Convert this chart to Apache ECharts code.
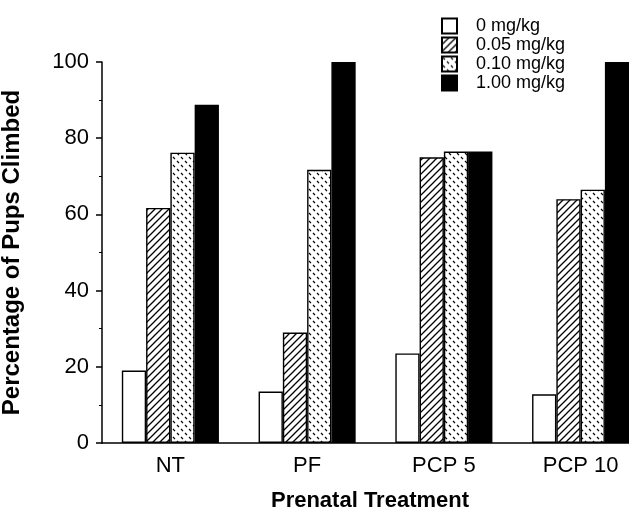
<!DOCTYPE html>
<html>
<head>
<meta charset="utf-8">
<script src="https://cdn.jsdelivr.net/npm/echarts@6/dist/echarts.min.js"></script>
<style>
  html, body { margin: 0; padding: 0; background: #fff; }
  #chart { width: 629px; height: 516px; }
</style>
</head>
<body>
<div id="chart"></div>
<script>
// 数据
var categories = ['NT', 'PF', 'PCP 5', 'PCP 10'];
var doseNames = ['0 mg/kg', '0.05 mg/kg', '0.10 mg/kg', '1.00 mg/kg'];
var dose0 = [19, 13.5, 23.5, 12.8];
var dose005 = [61.7, 29, 75, 64];
var dose010 = [76.2, 71.7, 76.5, 66.5];
var dose100 = [88.8, 100, 76.5, 100];
var yTicks = [0, 20, 40, 60, 80, 100];

var FONT = '"Liberation Sans", Arial, Helvetica, sans-serif';

// 斜线填充
function makeHatch() {
  var c = document.createElement('canvas');
  var s = 7;
  c.width = s; c.height = s;
  var ctx = c.getContext('2d');
  ctx.fillStyle = '#fff';
  ctx.fillRect(0, 0, s, s);
  ctx.strokeStyle = '#000';
  ctx.lineWidth = 1.3;
  ctx.beginPath();
  ctx.moveTo(-1, s + 1); ctx.lineTo(s + 1, -1);
  ctx.moveTo(-1, 1); ctx.lineTo(1, -1);
  ctx.moveTo(s - 1, s + 1); ctx.lineTo(s + 1, s - 1);
  ctx.stroke();
  return c;
}

// 点状填充
function makeDots() {
  var c = document.createElement('canvas');
  var s = 8;
  c.width = s; c.height = s;
  var ctx = c.getContext('2d');
  ctx.fillStyle = '#fff';
  ctx.fillRect(0, 0, s, s);
  ctx.strokeStyle = '#000';
  ctx.lineWidth = 1.2;
  ctx.beginPath();
  ctx.moveTo(1, 1); ctx.lineTo(3, 3.2);
  ctx.moveTo(5, 5); ctx.lineTo(7, 7.2);
  ctx.stroke();
  return c;
}

var fills = [
  '#fff',
  { image: makeHatch(), repeat: 'repeat' },
  { image: makeDots(), repeat: 'repeat' },
  '#000'
];
var seriesData = [dose0, dose005, dose010, dose100];

var myChart = echarts.init(document.getElementById('chart'));

var series = [];
for (var i = 0; i < seriesData.length; i++) {
  series.push({
    name: doseNames[i],
    type: 'bar',
    data: seriesData[i],
    barGap: '0%',
    barCategoryGap: '29%',
    itemStyle: {
      color: fills[i],
      borderColor: '#000',
      borderWidth: 1.4
    }
  });
}

var option = {
  backgroundColor: '#fff',
  animation: false,
  textStyle: { fontFamily: FONT },
  legend: {
    data: doseNames,
    orient: 'vertical',
    left: 436,
    top: 12,
    itemWidth: 15,
    itemHeight: 15,
    itemGap: 1,
    icon: 'rect',
    textStyle: {
      fontSize: 18,
      lineHeight: 15,
      color: '#000',
      fontFamily: FONT,
      padding: [0, 0, 0, 14]
    }
  },
  grid: {
    left: 102,
    top: 62,
    width: 547,
    height: 381,
    outerBoundsMode: 'none'
  },
  xAxis: {
    type: 'category',
    data: categories,
    name: 'Prenatal Treatment',
    nameLocation: 'middle',
    nameGap: 47,
    nameTextStyle: {
      fontSize: 22,
      fontWeight: 'bold',
      color: '#000',
      fontFamily: FONT,
      padding: [0, 11, 0, 0]
    },
    axisLine: { lineStyle: { color: '#000', width: 1.5 } },
    axisTick: { show: false },
    axisLabel: { fontSize: 22, color: '#000', margin: 12, fontFamily: FONT }
  },
  yAxis: {
    type: 'value',
    min: yTicks[0],
    max: yTicks[yTicks.length - 1],
    interval: 20,
    name: 'Percentage of Pups Climbed',
    nameLocation: 'middle',
    nameGap: 78,
    nameTextStyle: {
      fontSize: 24,
      fontWeight: 'bold',
      color: '#000',
      fontFamily: FONT
    },
    axisLine: { show: true, lineStyle: { color: '#000', width: 1.5 } },
    axisTick: { show: true, inside: false, length: 6, lineStyle: { color: '#000', width: 1.5 } },
    minorTick: { show: true, splitNumber: 2, length: 3, lineStyle: { color: '#000', width: 1 } },
    splitLine: { show: false },
    axisLabel: { fontSize: 22, color: '#000', margin: 13, fontFamily: FONT }
  },
  series: series
};
myChart.setOption(option);
</script>
</body>
</html>
